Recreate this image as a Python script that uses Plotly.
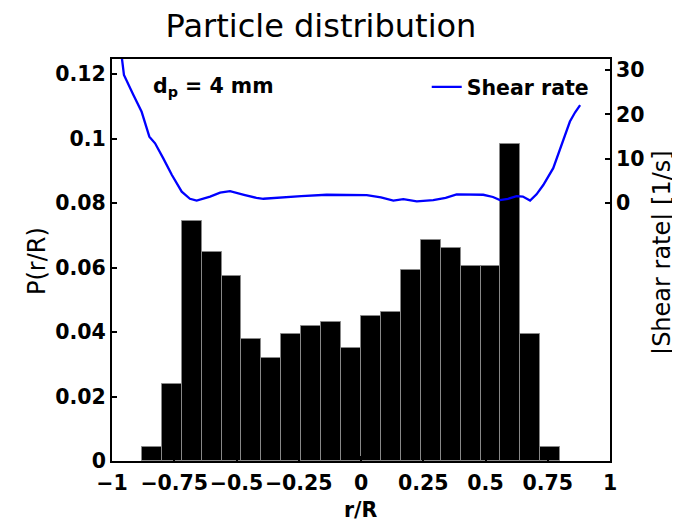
import plotly.graph_objects as go

# Histogram data (bin centres, width 0.08)
bin_centers = [-0.84, -0.76, -0.68, -0.60, -0.52, -0.44, -0.36, -0.28, -0.20, -0.12, -0.04,
               0.04, 0.12, 0.20, 0.28, 0.36, 0.44, 0.52, 0.60, 0.68, 0.76]
probability = [0.0042, 0.0239, 0.0745, 0.0647, 0.0575, 0.0378, 0.0321, 0.0394, 0.0420, 0.0432, 0.0349,
               0.0449, 0.0463, 0.0592, 0.0686, 0.0660, 0.0606, 0.0606, 0.0983, 0.0394, 0.0042]

# Shear rate profile
shear_r = [-0.962, -0.952, -0.914, -0.881, -0.850, -0.827, -0.794, -0.760, -0.720, -0.687, -0.660,
           -0.606, -0.566, -0.526, -0.470, -0.420, -0.392, -0.312, -0.240, -0.138, -0.060, 0.023,
           0.080, 0.130, 0.170, 0.224, 0.290, 0.340, 0.384, 0.440, 0.491, 0.530, 0.558, 0.590,
           0.625, 0.650, 0.679, 0.705, 0.732, 0.772, 0.806, 0.839, 0.860, 0.880]
shear_rate = [33.5, 28.9, 24.4, 20.6, 15.0, 13.5, 10.1, 6.4, 2.6, 1.0, 0.6,
              1.5, 2.4, 2.7, 1.9, 1.2, 1.0, 1.4, 1.6, 1.9, 1.8, 1.8,
              1.3, 0.6, 0.9, 0.4, 0.7, 1.2, 2.0, 2.0, 1.9, 1.4, 0.7, 1.0,
              1.6, 1.5, 0.6, 2.0, 4.1, 7.9, 13.1, 18.4, 20.5, 22.1]

x_ticks = [-1, -0.75, -0.5, -0.25, 0, 0.25, 0.5, 0.75, 1]
x_labels = ["−1", "−0.75", "−0.5", "−0.25", "0", "0.25", "0.5", "0.75", "1"]
y_ticks = [0, 0.02, 0.04, 0.06, 0.08, 0.1, 0.12]
y_labels = ["0", "0.02", "0.04", "0.06", "0.08", "0.1", "0.12"]
y2_ticks = [0, 10, 20, 30]

FONT = "DejaVu Sans, sans-serif"
TICK = 20.5

fig = go.Figure()
fig.add_trace(go.Bar(
    x=bin_centers, y=probability, width=0.08,
    marker=dict(color="black", line=dict(color="#888888", width=1)),
    showlegend=False, yaxis="y",
))
fig.add_trace(go.Scatter(
    x=shear_r, y=shear_rate, mode="lines", name="<b>Shear rate</b>",
    line=dict(color="#0000ff", width=2.3), yaxis="y2",
))

axis_common = dict(showgrid=False, zeroline=False, showline=True, linecolor="black",
                   linewidth=2, ticks="inside", ticklen=5, tickwidth=2, tickcolor="black",
                   automargin=False, tickangle=0,
                   tickfont=dict(family=FONT, size=TICK, color="black", weight="bold"))

# page body has an 8px margin, so the figure is sized 8px smaller
W, H = 672, 514
fig.update_layout(
    template="none",
    width=W, height=H,
    margin=dict(l=104, r=70, t=51, b=61, pad=0),
    paper_bgcolor="white", plot_bgcolor="white",
    font=dict(family=FONT, color="black"),
    title=dict(text="Particle distribution", x=313 / W, xanchor="center",
               y=1 - 18 / H, yanchor="middle", yref="container",
               font=dict(family=FONT, size=32, color="black")),
    xaxis=dict(range=[-1, 1], tickvals=x_ticks, ticktext=x_labels, mirror=True,
               ticklabelstandoff=2, **axis_common),
    yaxis=dict(range=[0, 0.1247], tickvals=y_ticks, ticktext=y_labels, **axis_common),
    yaxis2=dict(range=[-58.1, 32.5], tickvals=y2_ticks, overlaying="y", side="right",
                **axis_common),
    showlegend=True,
    legend=dict(x=0.632, y=0.930, xanchor="left", yanchor="middle", bgcolor="rgba(0,0,0,0)",
                borderwidth=0, font=dict(family=FONT, size=TICK, color="black")),
    bargap=0,
    annotations=[
        dict(text="<b>d<sub>p</sub> = 4 mm</b>", xref="paper", yref="paper",
             x=0.078, y=0.968, xanchor="left", yanchor="top", showarrow=False,
             font=dict(family=FONT, size=TICK, color="black")),
        dict(text="<b>r/R</b>", xref="paper", yref="paper", x=0.5, y=-0.1219,
             xanchor="center", yanchor="middle", showarrow=False,
             font=dict(family=FONT, size=TICK, color="black")),
        dict(text="P(r/R)", xref="paper", yref="paper", x=-0.1506, y=0.4975,
             xanchor="center", yanchor="middle", textangle=-90, showarrow=False,
             font=dict(family=FONT, size=24, color="black")),
        dict(text="|Shear rate| [1/s]", xref="paper", yref="paper", x=1.1044, y=0.52,
             xanchor="center", yanchor="middle", textangle=-90, showarrow=False,
             font=dict(family=FONT, size=24, color="black")),
    ],
)

fig.write_html("out.html")
